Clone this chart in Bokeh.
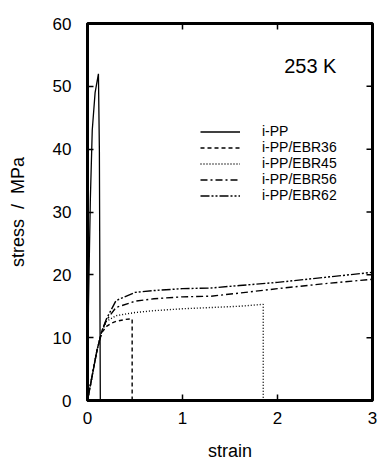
from bokeh.plotting import figure
from bokeh.models import Range1d, Legend, LegendItem, Label, FixedTicker
from bokeh.embed import file_html
from bokeh.resources import INLINE

FONT = "Liberation Sans"

# Stress-strain curves at 253 K
pp_strain = [0.0, 0.01, 0.03, 0.05, 0.08, 0.115, 0.125, 0.135]
pp_stress = [0.0, 15.0, 32.0, 43.0, 49.0, 52.0, 40.0, 0.0]

ebr36_strain = [0.0, 0.05, 0.10, 0.15, 0.20, 0.25, 0.30, 0.40, 0.47, 0.47]
ebr36_stress = [0.0, 4.0, 8.0, 10.8, 11.8, 12.3, 12.6, 12.9, 13.0, 0.0]

ebr45_strain = [0.0, 0.05, 0.10, 0.15, 0.20, 0.30, 0.50, 0.70, 1.00, 1.30, 1.60, 1.85, 1.85]
ebr45_stress = [0.0, 4.0, 8.0, 11.0, 12.6, 13.5, 14.0, 14.3, 14.6, 14.8, 15.0, 15.3, 0.0]

ebr56_strain = [0.0, 0.05, 0.10, 0.15, 0.20, 0.30, 0.50, 0.70, 1.00, 1.30, 1.60, 2.00, 2.50, 3.00]
ebr56_stress = [0.0, 4.0, 8.0, 11.0, 12.8, 14.8, 15.8, 16.2, 16.5, 16.6, 17.1, 17.8, 18.6, 19.3]

ebr62_strain = [0.0, 0.05, 0.10, 0.15, 0.20, 0.30, 0.50, 0.70, 1.00, 1.30, 1.60, 2.00, 2.50, 3.00]
ebr62_stress = [0.0, 4.0, 8.0, 11.0, 13.0, 15.9, 17.2, 17.5, 17.8, 17.9, 18.3, 18.8, 19.6, 20.4]

x_ticks = [0, 1, 2, 3]
y_ticks = [0, 10, 20, 30, 40, 50, 60]
X_MAX, Y_MAX = 3, 60

p = figure(width=381, height=464, output_backend="svg", toolbar_location=None,
           x_range=Range1d(0, X_MAX), y_range=Range1d(0, Y_MAX),
           min_border_left=87, min_border_right=9, min_border_top=23, min_border_bottom=64)
p.grid.visible = False
p.outline_line_color = "black"
p.outline_line_width = 3
p.background_fill_color = "white"
p.border_fill_color = "white"

for ax in (p.xaxis[0], p.yaxis[0]):
    ax.axis_line_width = 3
    ax.major_tick_in = 6
    ax.major_tick_out = 0
    ax.major_tick_line_width = 1.5
    ax.minor_tick_line_color = None
    ax.major_label_text_font = FONT
    ax.major_label_text_font_size = "17px"
    ax.major_label_text_color = "black"
    ax.axis_label_text_font = FONT
    ax.axis_label_text_font_size = "18px"
    ax.axis_label_text_font_style = "normal"
    ax.axis_label_text_color = "black"

p.xaxis.ticker = FixedTicker(ticks=x_ticks)
p.yaxis.ticker = FixedTicker(ticks=y_ticks)
p.xaxis.axis_label = "strain"
p.yaxis.axis_label = "stress \u00a0/ \u00a0MPa"
p.xaxis.major_label_standoff = 11
p.yaxis.major_label_standoff = 16
p.xaxis.axis_label_standoff = 14
p.yaxis.axis_label_standoff = 22

# inward ticks on the top and right edges of the frame
tick_dx = X_MAX * 6 / 285
tick_dy = Y_MAX * 6 / 377
p.segment(x0=x_ticks, x1=x_ticks, y0=[Y_MAX] * len(x_ticks),
          y1=[Y_MAX - tick_dy] * len(x_ticks), line_color="black", line_width=1.5)
p.segment(x0=[X_MAX] * len(y_ticks), x1=[X_MAX - tick_dx] * len(y_ticks),
          y0=y_ticks, y1=y_ticks, line_color="black", line_width=1.5)

r_pp = p.line(pp_strain, pp_stress, line_color="black", line_width=1.3)
r36 = p.line(ebr36_strain, ebr36_stress, line_color="black", line_width=1.4, line_dash="4 3")
r45 = p.line(ebr45_strain, ebr45_stress, line_color="black", line_width=1.4, line_dash="1 2")
r56 = p.line(ebr56_strain, ebr56_stress, line_color="black", line_width=1.4, line_dash="7 3 2 3")
r62 = p.line(ebr62_strain, ebr62_stress, line_color="black", line_width=1.4, line_dash="9 2 2 2 2 2")

legend = Legend(items=[
    LegendItem(label="i-PP", renderers=[r_pp]),
    LegendItem(label="i-PP/EBR36", renderers=[r36]),
    LegendItem(label="i-PP/EBR45", renderers=[r45]),
    LegendItem(label="i-PP/EBR56", renderers=[r56]),
    LegendItem(label="i-PP/EBR62", renderers=[r62]),
], location=(113, 197))
legend.background_fill_alpha = 0
legend.border_line_color = None
legend.padding = 0
legend.margin = 0
legend.spacing = 0
legend.glyph_width = 40
legend.glyph_height = 15
legend.label_height = 15
legend.label_standoff = 22
legend.label_text_font = FONT
legend.label_text_font_size = "14px"
legend.label_text_color = "black"
p.add_layout(legend, "center")

p.add_layout(Label(x=2.07, y=51.5, text="253 K", text_font=FONT, text_font_size="20px",
                   text_color="black"))

open("out.html", "w").write(file_html(p, INLINE))
